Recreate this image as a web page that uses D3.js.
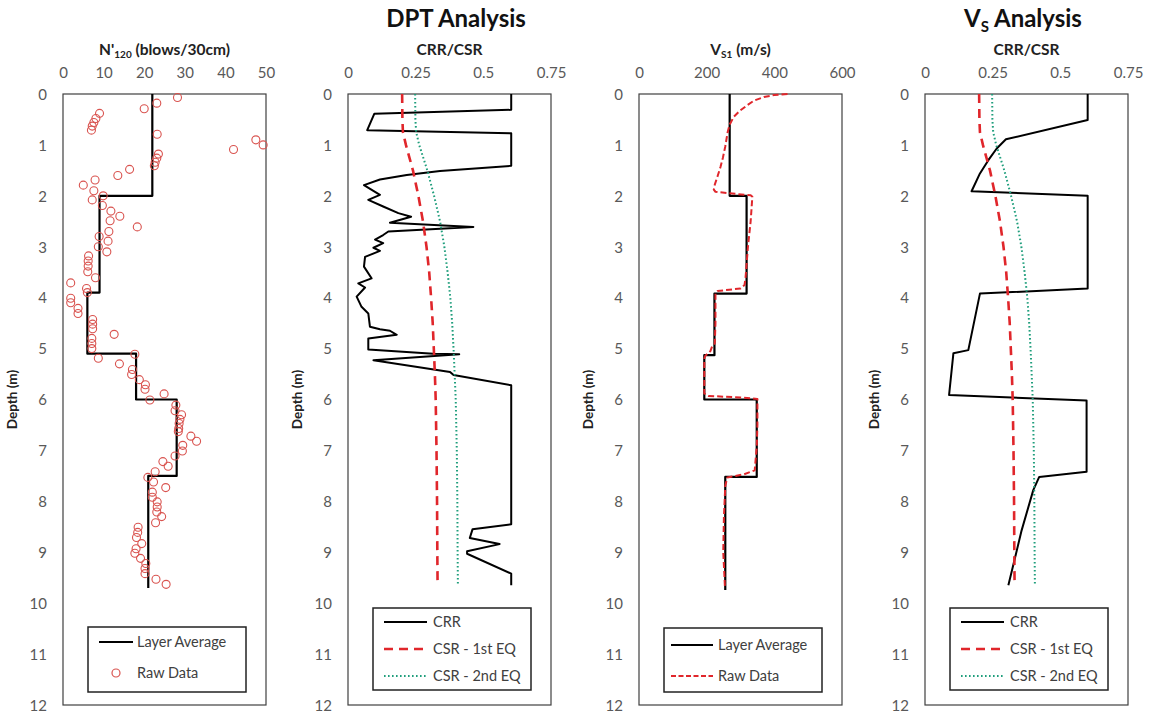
<!DOCTYPE html>
<html><head><meta charset="utf-8">
<script src="https://cdn.jsdelivr.net/npm/d3@7"></script>
<style>
html,body{margin:0;padding:0;background:#fff;}
svg{display:block;font-family:Lato,"Open Sans",sans-serif;}
</style></head><body>
<svg id="c" width="1155" height="717"></svg>
<script>
// ---------- data ----------
const depthTicks = [0,1,2,3,4,5,6,7,8,9,10,11,12];
const nTicks = [0,10,20,30,40,50];
const ratioTicks = [0,0.25,0.5,0.75];
const ratioTickLabels = ["0","0.25","0.5","0.75"];
const vsTicks = [0,200,400,600];

// Panel 1: N'120 layer average [value, depth]
const nLayer = [[22,0],[22,2.0],[9,2.0],[9,3.9],[6,3.9],[6,5.1],[18,5.1],[18,6.0],[28,6.0],[28,7.5],[21,7.5],[21,9.7]];
// Panel 1: raw data [value, depth]
const nRaw = [[28.2,0.07],[23.1,0.18],[20.0,0.29],[9.0,0.38],[8.1,0.48],[7.6,0.56],[7.2,0.63],[7.0,0.71],[23.2,0.79],[47.5,0.90],[49.3,1.0],[42.0,1.09],[23.5,1.18],[23.1,1.26],[22.7,1.34],[22.5,1.41],[16.4,1.48],[13.5,1.60],[7.9,1.69],[5.0,1.79],[7.6,1.90],[9.9,2.0],[7.2,2.08],[9.7,2.19],[11.8,2.30],[14.0,2.40],[11.6,2.49],[18.3,2.61],[11.3,2.70],[8.9,2.80],[11.1,2.89],[8.7,3.0],[10.8,3.10],[6.3,3.18],[6.2,3.28],[6.2,3.38],[6.1,3.49],[8.0,3.61],[1.9,3.71],[5.8,3.82],[6.0,3.90],[1.9,4.01],[1.9,4.10],[3.7,4.21],[3.7,4.31],[7.3,4.43],[7.3,4.52],[7.3,4.61],[12.6,4.72],[7.1,4.80],[7.1,4.90],[7.1,5.0],[17.7,5.11],[8.7,5.19],[13.9,5.30],[17.1,5.41],[16.9,5.51],[18.8,5.61],[20.3,5.71],[20.2,5.80],[24.9,5.89],[21.4,6.01],[27.8,6.11],[27.6,6.22],[29.2,6.30],[28.8,6.39],[28.6,6.47],[28.5,6.57],[28.4,6.63],[31.5,6.72],[32.9,6.82],[29.5,6.90],[29.4,7.01],[27.6,7.11],[24.6,7.22],[25.9,7.31],[22.7,7.42],[20.9,7.53],[22.3,7.62],[25.3,7.73],[22.0,7.82],[22.0,7.92],[23.2,8.01],[23.2,8.11],[23.1,8.21],[24.3,8.30],[22.8,8.42],[18.5,8.51],[18.4,8.61],[18.1,8.71],[19.4,8.83],[18.0,8.93],[17.7,9.02],[19.1,9.12],[20.4,9.22],[20.2,9.32],[20.2,9.42],[22.9,9.53],[25.4,9.63]];

// Panel 2: DPT CRR [value, depth]
const dptCRR = [[0.603,0],[0.603,0.31],[0.097,0.39],[0.071,0.71],[0.603,0.77],[0.603,1.41],[0.34,1.51],[0.217,1.59],[0.118,1.68],[0.059,1.79],[0.118,1.98],[0.075,2.08],[0.13,2.21],[0.186,2.34],[0.233,2.41],[0.155,2.53],[0.463,2.61],[0.149,2.70],[0.13,2.77],[0.1,2.86],[0.13,2.93],[0.094,3.02],[0.118,3.08],[0.063,3.20],[0.059,3.39],[0.087,3.62],[0.038,3.72],[0.063,3.80],[0.032,3.98],[0.05,4.18],[0.075,4.31],[0.081,4.57],[0.118,4.62],[0.155,4.65],[0.18,4.73],[0.075,4.80],[0.075,5.02],[0.315,5.10],[0.411,5.11],[0.094,5.23],[0.377,5.46],[0.39,5.52],[0.603,5.72],[0.603,8.45],[0.46,8.55],[0.45,8.72],[0.56,8.84],[0.44,8.98],[0.44,9.03],[0.603,9.42],[0.603,9.65]];
// CSR curves (shared by panels 2 and 4) [value, depth]
const csr1 = [[0.200,0],[0.201,0.5],[0.203,0.75],[0.214,1.0],[0.240,1.5],[0.260,2.0],[0.277,2.5],[0.290,3.0],[0.300,3.5],[0.307,4.0],[0.313,4.5],[0.317,5.0],[0.321,5.5],[0.324,6.0],[0.327,7.0],[0.329,8.0],[0.330,9.0],[0.331,9.65]];
const csr2 = [[0.248,0],[0.249,0.5],[0.252,0.75],[0.263,1.0],[0.293,1.5],[0.318,2.0],[0.340,2.5],[0.356,3.0],[0.368,3.5],[0.378,4.0],[0.385,4.5],[0.390,5.0],[0.394,5.5],[0.398,6.0],[0.402,7.0],[0.404,8.0],[0.405,9.0],[0.406,9.65]];

// Panel 3: Vs1 layer average and raw [value, depth]
const vsLayer = [[268,0],[268,2.0],[318,2.0],[318,3.92],[223,3.92],[223,5.13],[193,5.13],[193,6.0],[348,6.0],[348,7.52],[255,7.52],[255,9.74]];
const vsRaw = [[439,0],[400,0.02],[369,0.06],[340,0.13],[320,0.22],[298,0.33],[280,0.45],[268,0.6],[262,0.75],[255,1.03],[248,1.25],[241,1.43],[232,1.62],[224,1.78],[221,1.88],[226,1.92],[268,1.95],[330,1.99],[335,2.02],[330,2.5],[322,3.0],[315,3.6],[312,3.75],[300,3.82],[232,3.87],[226,3.92],[226,4.5],[224,4.9],[216,4.96],[211,5.05],[196,5.14],[193,5.2],[193,5.88],[205,5.93],[300,5.96],[350,5.99],[350,6.5],[348,6.93],[342,7.39],[310,7.47],[261,7.53],[255,7.7],[251,8.3],[249,9.0],[252,9.4],[254,9.68]];

// Panel 4: Vs-based CRR [value, depth]
const vsCRR = [[0.601,0],[0.601,0.51],[0.299,0.89],[0.265,1.07],[0.234,1.30],[0.203,1.56],[0.172,1.91],[0.601,2.0],[0.601,3.82],[0.203,3.92],[0.16,5.03],[0.105,5.09],[0.089,5.91],[0.597,6.02],[0.597,7.42],[0.422,7.52],[0.40,7.78],[0.357,8.57],[0.308,9.65]];

// ---------- layout ----------
const svg = d3.select("#c");
const TOP = 94, H = 611, W = 203;
const RED = "#e0262b", GREEN = "#1f9e7c", CIRC = "#d9534f";
const y = d3.scaleLinear().domain([0,12]).range([TOP, TOP+H]);

function panel(left, xDomain, xTicks, xFmt, axisTitle) {
  const x = d3.scaleLinear().domain(xDomain).range([left, left+W]);
  const g = svg.append("g");
  const xa = g.append("g").attr("transform",`translate(0,${TOP})`)
    .call(d3.axisTop(x).tickValues(xTicks).tickFormat(xFmt).tickSize(0).tickPadding(16));
  xa.select(".domain").remove();
  xa.selectAll("text").attr("font-size",15).attr("fill","#595959").attr("font-family","Lato");
  const ya = g.append("g").attr("transform",`translate(${left},0)`)
    .call(d3.axisLeft(y).tickValues(depthTicks).tickFormat(d3.format("d")).tickSize(0).tickPadding(16));
  ya.select(".domain").remove();
  ya.selectAll("text").attr("font-size",15).attr("fill","#595959").attr("font-family","Lato").attr("dy","0.35em");
  g.append("rect").attr("x",left).attr("y",TOP).attr("width",W).attr("height",H)
    .attr("fill","none").attr("stroke","#404040").attr("stroke-width",1.2);
  g.append("text").attr("transform",`translate(${left-46},${TOP+H/2}) rotate(-90)`)
    .attr("text-anchor","middle").attr("font-weight","bold").attr("font-size",13.5).attr("fill","#222")
    .text("Depth (m)");
  const t = g.append("text").attr("x",left+W/2).attr("y",55).attr("text-anchor","middle")
    .attr("font-weight","bold").attr("font-size",15.5).attr("fill","#222");
  axisTitle(t);
  return {x, g};
}
function line(g, x, data, stroke, width, dash) {
  g.append("path").datum(data)
    .attr("d", d3.line().x(d=>x(d[0])).y(d=>y(d[1])))
    .attr("fill","none").attr("stroke",stroke).attr("stroke-width",width)
    .attr("stroke-dasharray",dash||null).attr("stroke-linejoin","round");
}
function legend(left, top, h, entries, lx0, lx1, tx) {
  const g = svg.append("g");
  g.append("rect").attr("x",left+25).attr("y",top).attr("width",158).attr("height",h)
    .attr("fill","#fff").attr("stroke","#222").attr("stroke-width",1.5);
  entries.forEach(e=>{
    if (e.circle) {
      g.append("circle").attr("cx",left+(lx0+lx1)/2).attr("cy",e.y).attr("r",4)
        .attr("fill","none").attr("stroke",e.stroke).attr("stroke-width",1.2);
    } else {
      g.append("line").attr("x1",left+lx0).attr("x2",left+lx1).attr("y1",e.y).attr("y2",e.y)
        .attr("stroke",e.stroke).attr("stroke-width",e.w).attr("stroke-dasharray",e.dash||null);
    }
    g.append("text").attr("x",left+tx).attr("y",e.y).attr("dy","0.35em")
      .attr("font-size",14.5).attr("fill","#404040").text(e.label);
  });
}

// Panel 1
{
  const p = panel(63, [0,50], nTicks, d3.format("d"), t=>{
    t.append("tspan").text("N'");
    t.append("tspan").attr("font-size",10).attr("dy",3).text("120");
    t.append("tspan").attr("dy",-3).text(" (blows/30cm)");
  });
  line(p.g, p.x, nLayer, "#000", 2.2);
  p.g.selectAll("circle.raw").data(nRaw).join("circle").attr("class","raw")
    .attr("cx",d=>p.x(d[0])).attr("cy",d=>y(d[1])).attr("r",4)
    .attr("fill","none").attr("stroke",CIRC).attr("stroke-width",1.1);
  legend(63, 627, 65, [
    {y:642, label:"Layer Average", stroke:"#000", w:2.2},
    {y:673, label:"Raw Data", stroke:CIRC, circle:true}
  ], 36, 70, 74);
}
// Panel 2
{
  const p = panel(348, [0,0.75], ratioTicks, (d,i)=>ratioTickLabels[i], t=>t.text("CRR/CSR"));
  line(p.g, p.x, dptCRR, "#000", 2);
  line(p.g, p.x, csr1, RED, 2.6, "9,6");
  line(p.g, p.x, csr2, GREEN, 2, "1.6,2.4");
  svg.append("text").attr("x",456).attr("y",27).attr("text-anchor","middle")
    .attr("font-weight","bold").attr("font-size",24).attr("fill","#111").text("DPT Analysis");
  legend(348, 608, 82, [
    {y:622, label:"CRR", stroke:"#000", w:1.8},
    {y:649, label:"CSR - 1st EQ", stroke:RED, w:2.6, dash:"9,6"},
    {y:676, label:"CSR - 2nd EQ", stroke:GREEN, w:2, dash:"1.6,2.4"}
  ], 36, 79, 85);
}
// Panel 3
{
  const p = panel(639, [0,600], vsTicks, d3.format("d"), t=>{
    t.append("tspan").text("V");
    t.append("tspan").attr("font-size",10).attr("dy",3).text("S1");
    t.append("tspan").attr("dy",-3).text(" (m/s)");
  });
  line(p.g, p.x, vsLayer, "#000", 2.2);
  line(p.g, p.x, vsRaw, RED, 2, "6,3");
  legend(639, 628, 64, [
    {y:645, label:"Layer Average", stroke:"#000", w:2.2},
    {y:676, label:"Raw Data", stroke:RED, w:2, dash:"5,2.5"}
  ], 32, 74, 79);
}
// Panel 4
{
  const p = panel(925, [0,0.75], ratioTicks, (d,i)=>ratioTickLabels[i], t=>t.text("CRR/CSR"));
  line(p.g, p.x, vsCRR, "#000", 2);
  line(p.g, p.x, csr1, RED, 2.6, "9,6");
  line(p.g, p.x, csr2, GREEN, 2, "1.6,2.4");
  const tt = svg.append("text").attr("x",1023).attr("y",27).attr("text-anchor","middle")
    .attr("font-weight","bold").attr("font-size",24).attr("fill","#111");
  tt.append("tspan").text("V");
  tt.append("tspan").attr("font-size",15).attr("dy",5).text("S");
  tt.append("tspan").attr("dy",-5).text(" Analysis");
  legend(925, 608, 82, [
    {y:622, label:"CRR", stroke:"#000", w:1.8},
    {y:649, label:"CSR - 1st EQ", stroke:RED, w:2.6, dash:"9,6"},
    {y:676, label:"CSR - 2nd EQ", stroke:GREEN, w:2, dash:"1.6,2.4"}
  ], 36, 79, 85);
}
</script>
</body></html>
